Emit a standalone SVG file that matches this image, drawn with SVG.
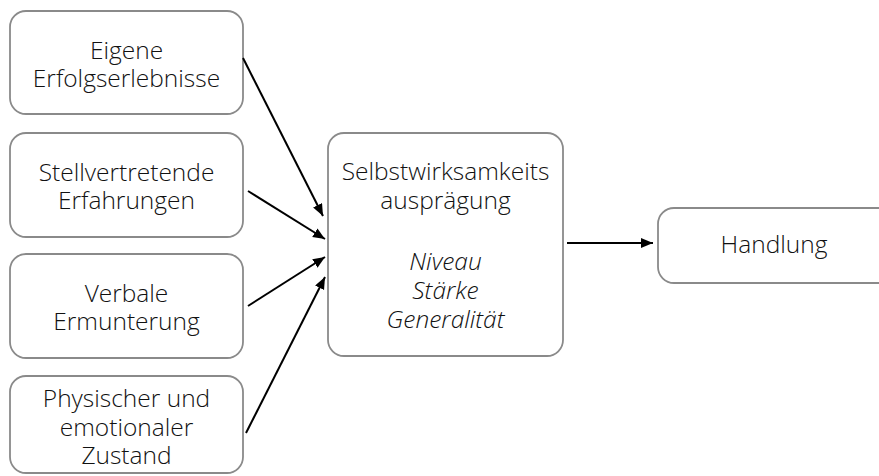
<svg xmlns="http://www.w3.org/2000/svg" width="879" height="476" viewBox="0 0 879 476">
<style>
.box{fill:#fff;stroke:#8a8a8a;stroke-width:1.8}
.t{font-family:"Open Sans","Liberation Sans",sans-serif;font-weight:300;font-size:24.5px;fill:#111;text-anchor:middle}
.i{font-style:italic}
.c{stroke:#000;stroke-width:2;fill:none;marker-end:url(#ah)}
</style>
<defs>
<marker id="ah" markerUnits="userSpaceOnUse" markerWidth="14" markerHeight="12" refX="12" refY="5" orient="auto">
<path d="M0,0 L12,5 L0,10 Z" fill="#000"/>
</marker>
</defs>
<rect width="879" height="476" fill="#fff"/>
<g id="n1"><rect class="box" x="10" y="11" width="233" height="103" rx="16"/>
<text class="t" x="126.5" y="59">Eigene</text><text class="t" x="126.5" y="87">Erfolgserlebnisse</text></g>
<g id="n2"><rect class="box" x="10" y="133" width="233" height="104" rx="16"/>
<text class="t" x="126.5" y="181">Stellvertretende</text><text class="t" x="126.5" y="209">Erfahrungen</text></g>
<g id="n3"><rect class="box" x="10" y="254" width="233" height="104" rx="16"/>
<text class="t" x="126.5" y="302">Verbale</text><text class="t" x="126.5" y="330">Ermunterung</text></g>
<g id="n4"><rect class="box" x="10" y="376" width="233" height="97" rx="16"/>
<text class="t" x="126.5" y="407">Physischer und</text><text class="t" x="126.5" y="436">emotionaler</text><text class="t" x="126.5" y="464">Zustand</text></g>
<g id="n5"><rect class="box" x="328" y="133" width="235" height="223" rx="16"/>
<text class="t" x="445.5" y="180">Selbstwirksamkeits</text><text class="t" x="445.5" y="209">ausprägung</text>
<text class="t i" x="445.5" y="270">Niveau</text><text class="t i" x="445.5" y="299">Stärke</text><text class="t i" x="445.5" y="328">Generalität</text></g>
<g id="n6"><rect class="box" x="658" y="208" width="250" height="75" rx="16"/>
<text class="t" x="774" y="253">Handlung</text></g>
<g id="connectors">
<line class="c" x1="243" y1="58" x2="323" y2="216"/>
<line class="c" x1="248" y1="191" x2="325" y2="239"/>
<line class="c" x1="248" y1="306" x2="325" y2="257"/>
<line class="c" x1="246" y1="433" x2="325" y2="277"/>
<line class="c" x1="567" y1="243" x2="653" y2="243"/>
</g>
</svg>
